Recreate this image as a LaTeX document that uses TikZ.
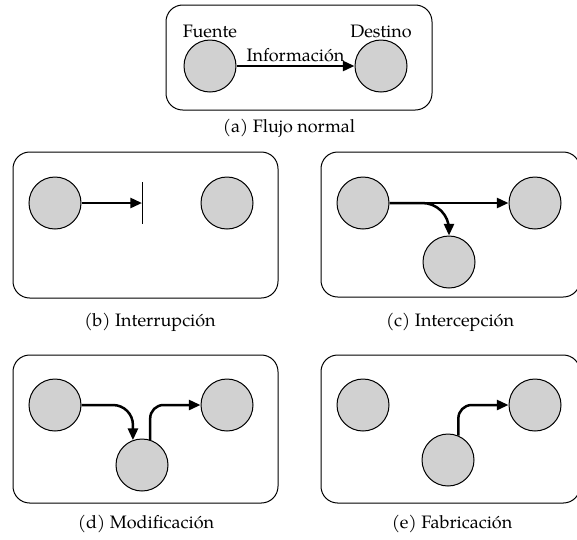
\documentclass[tikz,border=0pt]{standalone}
\usepackage{fontspec}
\setmainfont{TeX Gyre Pagella}
\usetikzlibrary{arrows.meta,calc}
\tikzset{
  frame/.style={draw=black, line width=0.6pt, rounded corners=10pt},
  party/.style={circle, draw=black, line width=0.6pt, fill=black!18,
    inner sep=0pt, minimum size=31.2pt},
  flow/.style={draw=black, line width=1.5pt,
    -{Triangle[length=7pt,width=6pt]}},
  lbl/.style={font=\fontsize{10.8}{12}\selectfont, inner sep=1pt},
}
\begin{document}
\begin{tikzpicture}[x=0.6pt, y=-0.6pt]
  \clip (0,0) rectangle (577,539);
  \fill[white] (0,0) rectangle (577,539);

  % (a) normal flow
  \draw[frame] (166,5) rectangle (432,110);
  \node[party] (asrc) at (210,66) {};
  \node[party] (adst) at (381,66) {};
  \node[lbl] (afue) at (210,31) {Fuente};
  \node[lbl] (ades) at (381,31) {Destino};
  \draw[flow] (asrc) -- node[lbl, above=1pt] {Información} (adst);
  \node[lbl] (capa) at (289,128) {(a) Flujo normal};

  % (b) interruption
  \draw[frame] (13,152) rectangle (278,298);
  \node[party] (bl) at (55,203) {};
  \node[party] (br) at (227,203) {};
  \coordinate (bcut) at (142,203);
  \draw[flow] (bl) -- (bcut);
  \draw[line width=0.6pt] (bcut) ++(0,-21) -- ++(0,42);
  \node[lbl] (capb) at (150,322) {(b) Interrupción};

  % (c) interception
  \draw[frame] (321,152) rectangle (580,297);
  \node[party] (cl) at (363,203) {};
  \node[party] (cr) at (535,203) {};
  \node[party] (cb) at (449,262) {};
  \draw[flow] (cl) -- (cr);
  \draw[flow, rounded corners=16pt] (cl.east) -| (cb.north);
  \node[lbl] (capc) at (450,322) {(c) Intercepción};

  % (d) modification
  \draw[frame] (13,355) rectangle (278,503);
  \node[party] (dl) at (55,405) {};
  \node[party] (dr) at (227,405) {};
  \node[party] (db) at (142,465) {};
  \draw[flow, rounded corners=12pt] (dl.east) -| (db.110);
  \draw[flow, rounded corners=8pt] (db.72) |- (dr.west);
  \node[lbl] (capd) at (146,524) {(d) Modificación};

  % (e) fabrication
  \draw[frame] (321,355) rectangle (580,503);
  \node[party] (el) at (363,405) {};
  \node[party] (er) at (535,405) {};
  \node[party] (eb) at (448,460) {};
  \draw[flow, rounded corners=8pt] (eb.67) |- (er.west);
  \node[lbl] (cape) at (452,524) {(e) Fabricación};
\end{tikzpicture}
\end{document}
